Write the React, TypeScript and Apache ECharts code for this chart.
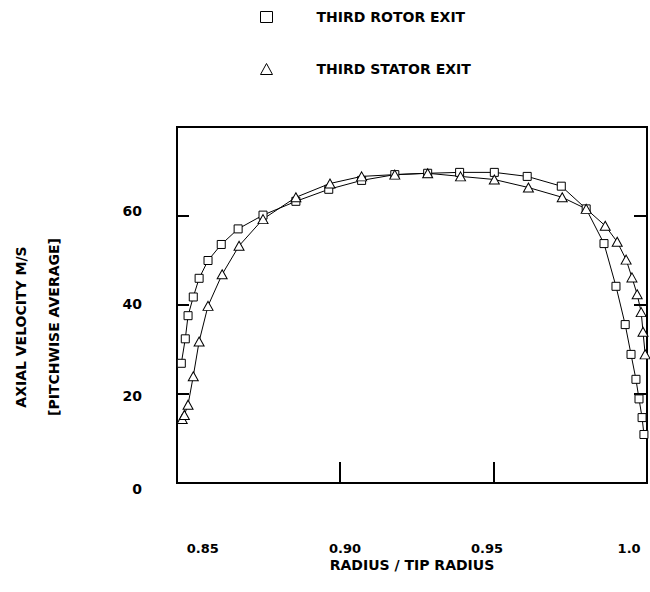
import { useEffect, useRef } from "react";
import * as echarts from "echarts";

// Radius ratio (r / r_tip) and pitchwise-averaged axial velocity (m/s)
const rotorRadius = [
  0.8484, 0.8497, 0.8506, 0.8523, 0.8542, 0.8571, 0.8614, 0.8669, 0.875, 0.8857,
  0.8964, 0.9071, 0.9179, 0.9286, 0.939, 0.9503, 0.961, 0.9721, 0.9802, 0.986,
  0.9899, 0.9929, 0.9948, 0.9964, 0.9974, 0.9984, 0.999,
];
const rotorVelocity = [
  26.9, 32.4, 37.6, 41.8, 46.0, 50.0, 53.6, 57.1, 60.2, 63.3, 66.0, 68.0, 69.3,
  69.6, 69.8, 69.8, 68.9, 66.7, 61.6, 53.8, 44.2, 35.6, 28.9, 23.3, 18.9, 14.7,
  10.9,
];
const statorRadius = [
  0.8487, 0.8494, 0.8506, 0.8523, 0.8542, 0.8571, 0.8617, 0.8672, 0.875, 0.8857,
  0.8968, 0.9071, 0.9179, 0.9286, 0.9393, 0.9503, 0.9614, 0.9724, 0.9802, 0.9864,
  0.9903, 0.9932, 0.9951, 0.9968, 0.9981, 0.9987, 0.9994,
];
const statorVelocity = [
  14.4, 15.3, 17.6, 24.0, 31.8, 39.8, 46.9, 53.3, 59.3, 64.2, 67.3, 68.9, 69.3,
  69.6, 68.9, 68.2, 66.4, 64.2, 61.6, 57.8, 54.2, 50.2, 46.2, 42.4, 38.4, 34.0,
  28.9,
];

const xTickValues = [0.85, 0.9, 0.95, 1.0];
const xTickLabels = ["0.85", "0.90", "0.95", "1.0"];
const xInnerTicks = [0.9, 0.95];
const yTickLabels = [0, 20, 40, 60];
const yInnerTicks = [20, 40, 60];

const seriesNames = ["THIRD ROTOR EXIT", "THIRD STATOR EXIT"];
const yTitleLines = ["AXIAL VELOCITY M/S", "[PITCHWISE AVERAGE]"];
const xTitle = "RADIUS / TIP RADIUS";

const FONT = "DejaVu Sans";
const BOLD = { fontFamily: FONT, fontWeight: "bold" as const, color: "#000" };

const pairs = (xs: number[], ys: number[]) => xs.map((x, i) => [x, ys[i]]);

// small vertical nudges for the velocity labels (rich-text padding)
const yLabelRich = {
  v0: { ...BOLD, fontSize: 14, padding: [12, 0, 0, 0] },
  v20: { ...BOLD, fontSize: 14, padding: [4, 0, 0, 0] },
  v40: { ...BOLD, fontSize: 14, padding: [0, 0, 2, 0] },
  v60: { ...BOLD, fontSize: 14, padding: [0, 0, 10, 0] },
};

export default function App() {
  const ref = useRef<HTMLDivElement>(null);

  useEffect(() => {
    const chart = echarts.init(ref.current!, null, { renderer: "svg" });
    const markerStyle = { color: "#fff", borderColor: "#000", borderWidth: 1 };

    chart.setOption({
      animation: false,
      backgroundColor: "#fff",
      legend: {
        orient: "vertical",
        left: 255,
        top: 5,
        itemWidth: 12,
        itemHeight: 11,
        itemGap: 38,
        selectedMode: false,
        itemStyle: markerStyle,
        textStyle: { ...BOLD, fontSize: 14, padding: [0, 0, 0, 39] },
        data: [
          { name: seriesNames[0], icon: "rect" },
          { name: seriesNames[1], icon: "triangle" },
        ],
      },
      grid: {
        left: 177,
        right: 3,
        top: 127,
        bottom: 109,
        show: true,
        borderColor: "#000",
        borderWidth: 2,
        backgroundColor: "transparent",
      },
      xAxis: [
        {
          type: "value",
          min: 0.847,
          max: 1.0,
          position: "bottom",
          axisLine: { show: false },
          splitLine: { show: false },
          axisLabel: { show: false },
          axisTick: {
            show: true,
            inside: true,
            length: 21,
            customValues: xInnerTicks,
            lineStyle: { color: "#000", width: 2 },
          },
          name: xTitle,
          nameLocation: "middle",
          nameGap: 75,
          nameTextStyle: { ...BOLD, fontSize: 14 },
        },
        {
          // carries the radius labels along the bottom edge
          type: "value",
          min: 0.8409,
          max: 1.0063,
          position: "bottom",
          axisLine: { show: false },
          axisTick: { show: false },
          splitLine: { show: false },
          axisLabel: {
            customValues: xTickValues,
            margin: 59,
            ...BOLD,
            fontSize: 13,
            formatter: (v: number) => {
              const i = xTickValues.findIndex((t) => Math.abs(t - v) < 1e-6);
              return i >= 0 ? xTickLabels[i] : "";
            },
          },
        },
      ],
      yAxis: [
        {
          type: "value",
          min: 0,
          max: 80,
          position: "left",
          axisLine: { show: false },
          splitLine: { show: false },
          axisTick: {
            show: true,
            inside: true,
            length: 12,
            customValues: yInnerTicks,
            lineStyle: { color: "#000", width: 2 },
          },
          axisLabel: {
            customValues: yTickLabels,
            margin: 35,
            ...BOLD,
            fontSize: 14,
            formatter: (v: number) => `{v${Math.round(v)}|${Math.round(v)}}`,
            rich: yLabelRich,
          },
        },
        {
          type: "value",
          min: 0,
          max: 80,
          position: "right",
          axisLine: { show: false },
          splitLine: { show: false },
          axisLabel: { show: false },
          axisTick: {
            show: true,
            inside: true,
            length: 13,
            customValues: yInnerTicks,
            lineStyle: { color: "#000", width: 2 },
          },
        },
      ],
      graphic: yTitleLines.map((text, i) => ({
        type: "text",
        x: i === 0 ? 21 : 54,
        y: 327,
        rotation: Math.PI / 2,
        style: {
          text,
          align: "center",
          verticalAlign: "middle",
          fontFamily: FONT,
          fontWeight: "bold",
          fontSize: 14,
          fill: "#000",
        },
      })),
      series: [
        {
          type: "line",
          name: seriesNames[0],
          xAxisIndex: 0,
          yAxisIndex: 0,
          data: pairs(rotorRadius, rotorVelocity),
          symbol: "rect",
          symbolSize: 8,
          showAllSymbol: true,
          lineStyle: { color: "#000", width: 1 },
          itemStyle: markerStyle,
          emphasis: { disabled: true },
        },
        {
          type: "line",
          name: seriesNames[1],
          xAxisIndex: 0,
          yAxisIndex: 0,
          data: pairs(statorRadius, statorVelocity),
          symbol: "triangle",
          symbolSize: [10, 9],
          showAllSymbol: true,
          lineStyle: { color: "#000", width: 1 },
          itemStyle: markerStyle,
          emphasis: { disabled: true },
        },
      ],
    });

    return () => chart.dispose();
  }, []);

  return (
    <div
      ref={ref}
      style={{ position: "absolute", left: 0, top: 0, width: 650, height: 592 }}
    />
  );
}
